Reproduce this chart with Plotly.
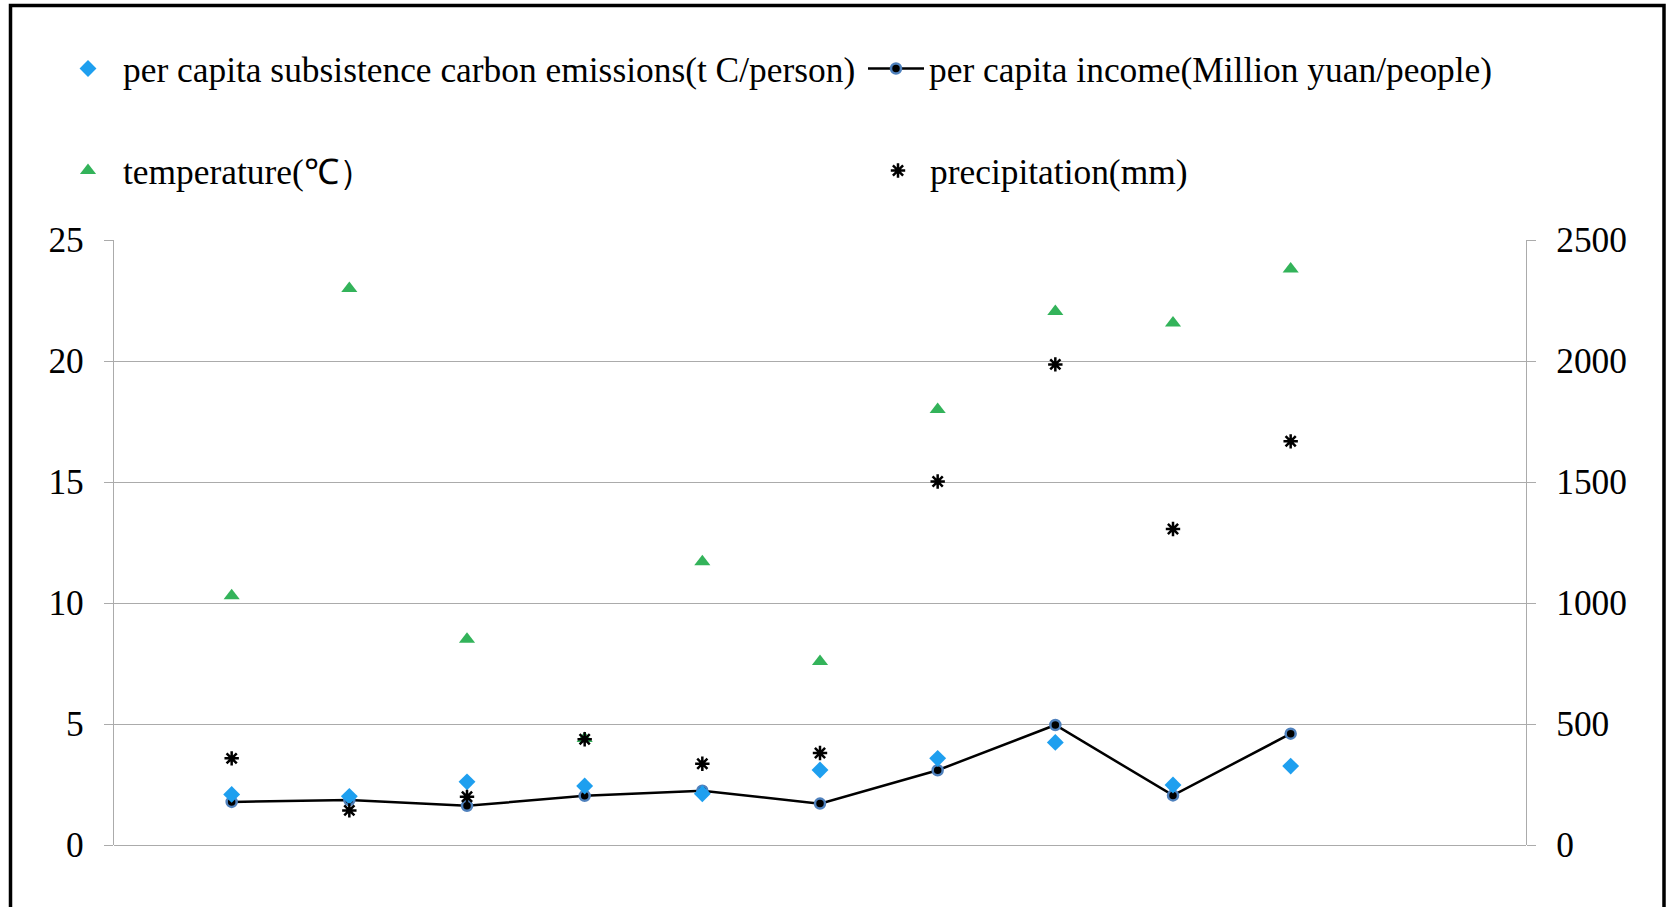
import plotly.graph_objects as go

# ---- data ----
x_pos = [1, 2, 3, 4, 5, 6, 7, 8, 9, 10]
emissions = [2.09, 2.01, 2.61, 2.44, 2.12, 3.10, 3.58, 4.24, 2.48, 3.26]
income = [1.78, 1.86, 1.62, 2.03, 2.24, 1.71, 3.09, 4.96, 2.05, 4.60]
temperature = [10.3, 23.0, 8.5, 4.4, 11.7, 7.58, 18.0, 22.05, 21.57, 23.8]
precipitation = [358, 143, 199, 437, 336, 380, 1502, 1986, 1306, 1668]

left_ticks = [0, 5, 10, 15, 20, 25]
right_ticks = [0, 500, 1000, 1500, 2000, 2500]

names = [
    "per capita subsistence carbon emissions(t C/person)",
    "per capita income(Million yuan/people)",
    "temperature(\u2103\uff09",
    "precipitation(mm)",
]

W, H = 1671, 907
L, R, T, B = 114, 145, 240, 62
PW, PH = W - L - R, H - T - B

def px_x(px):
    return (px - L) / PW

def px_y(py):
    return (H - B - py) / PH

FONT = "Liberation Serif, Times New Roman, serif"
FS = 35.4
GRID = "#ABABAB"

fig = go.Figure()

fig.add_trace(go.Scatter(
    x=x_pos, y=income, name=names[1], mode="lines+markers",
    line=dict(color="black", width=2.5),
    marker=dict(symbol="circle", size=10, color="black",
                line=dict(color="#4F81BD", width=2.5)),
    legend="legend2",
))
fig.add_trace(go.Scatter(
    x=x_pos, y=emissions, name=names[0], mode="markers",
    marker=dict(symbol="diamond", size=13, color="#1E9FEF"),
    legend="legend",
))
fig.add_trace(go.Scatter(
    x=x_pos, y=temperature, name=names[2], mode="markers",
    marker=dict(symbol="triangle-up", size=14, color="#33B35A"),
    legend="legend3",
))
fig.add_trace(go.Scatter(
    x=x_pos, y=precipitation, name=names[3], mode="markers", yaxis="y2",
    marker=dict(symbol="asterisk-open", size=12, color="black",
                line=dict(color="black", width=2.5)),
    legend="legend4",
))

def leg(x_px, y_px, iw):
    return dict(
        x=px_x(x_px), y=px_y(y_px), xanchor="left", yanchor="middle",
        orientation="h", itemwidth=iw, bgcolor="rgba(0,0,0,0)",
        font=dict(family=FONT, size=FS, color="black"),
        borderwidth=0, itemclick=False, itemdoubleclick=False,
    )

fig.update_layout(
    width=W, height=H, autosize=False,
    margin=dict(l=L, r=R, t=T, b=B, pad=0),
    paper_bgcolor="white", plot_bgcolor="white",
    font=dict(family=FONT, size=FS, color="black"),
    showlegend=True,
    legend=leg(123 - 70, 69, 60),
    legend2=leg(929 - 66, 69, 56),
    legend3=leg(123 - 70, 171, 60),
    legend4=leg(930 - 64, 171, 54),
    xaxis=dict(range=[0, 12], showgrid=False, zeroline=False,
               showline=False, showticklabels=False, ticks=""),
    yaxis=dict(range=[0, 25], tickvals=left_ticks, showgrid=True,
               gridcolor=GRID, gridwidth=1.3, zeroline=True,
               zerolinecolor=GRID, zerolinewidth=1.3,
               showline=True, linecolor=GRID, linewidth=1.3,
               ticks="outside", ticklen=9, tickcolor=GRID, tickwidth=1.3,
               ticklabelstandoff=13,
               tickfont=dict(family=FONT, size=FS, color="black")),
    yaxis2=dict(range=[0, 2500], tickvals=right_ticks, overlaying="y",
                side="right", showgrid=False, zeroline=False,
                showline=True, linecolor=GRID, linewidth=1.3,
                ticks="outside", ticklen=9, tickcolor=GRID, tickwidth=1.3,
                ticklabelstandoff=13,
                tickfont=dict(family=FONT, size=FS, color="black")),
    shapes=[dict(type="rect", xref="paper", yref="paper",
                 x0=px_x(10.5), x1=px_x(1664), y0=px_y(930), y1=px_y(5.5),
                 line=dict(color="black", width=3.5),
                 fillcolor="rgba(0,0,0,0)")],
)

fig.write_html("out.html")
